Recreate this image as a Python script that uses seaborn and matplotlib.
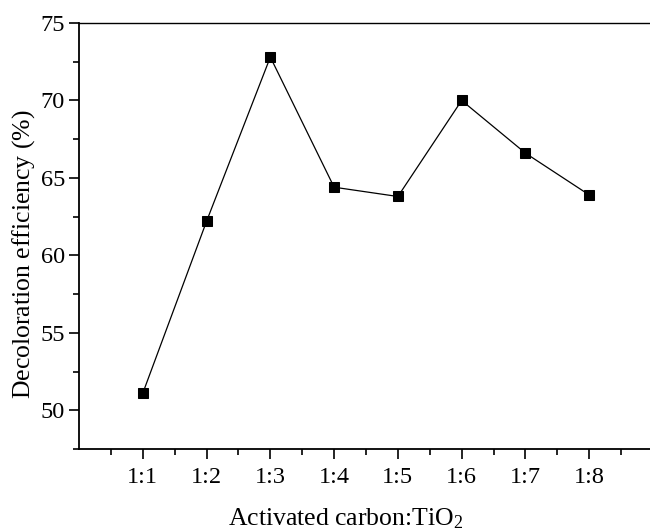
import matplotlib
matplotlib.use("Agg")
import matplotlib.pyplot as plt
import seaborn as sns
import pandas as pd
from matplotlib.ticker import MultipleLocator, FixedLocator

categories = ["1:1", "1:2", "1:3", "1:4", "1:5", "1:6", "1:7", "1:8"]
positions = [1, 2, 3, 4, 5, 6, 7, 8]
efficiency = [51.1, 62.2, 72.8, 64.4, 63.8, 70.0, 66.6, 63.9]

sns.set_theme(style="ticks")
plt.rcParams['font.family'] = ['Liberation Serif', 'DejaVu Serif']
plt.rcParams['mathtext.fontset'] = 'custom'
plt.rcParams['mathtext.rm'] = 'Liberation Serif'
plt.rcParams['mathtext.it'] = 'Liberation Serif:italic'

df = pd.DataFrame({"pos": positions, "eff": efficiency})

fig = plt.figure(figsize=(6.5, 5.31), dpi=100)
ax = fig.add_axes([79/650, 1-449/531, (653-79)/650, (449-23)/531])

sns.lineplot(data=df, x="pos", y="eff", ax=ax, color="black", linewidth=0.9,
             marker="s", markersize=7.5, markeredgecolor="black",
             markerfacecolor="black")

ax.set_xlim(0, 9)
ax.set_ylim(47.5, 75)
ax.xaxis.set_major_locator(FixedLocator(positions))
ax.set_xticklabels(categories)
ax.xaxis.set_minor_locator(FixedLocator([0.5 + i for i in range(9)]))
ax.yaxis.set_major_locator(MultipleLocator(5))
ax.yaxis.set_minor_locator(MultipleLocator(2.5))

ax.tick_params(axis="both", which="major", direction="out", length=7, width=1.2,
               labelsize=17.5, color="black", labelcolor="black", pad=3)
ax.tick_params(axis="both", which="minor", direction="out", length=4.5, width=1.2,
               color="black")
ax.tick_params(axis="x", which="major", pad=6)

for s in ["left", "bottom"]:
    ax.spines[s].set_linewidth(1.3)
    ax.spines[s].set_color("black")
ax.spines["top"].set_linewidth(1.0)
ax.spines["top"].set_color("black")
ax.spines["right"].set_visible(False)

ax.set_xlabel("Activated carbon:TiO$_2$", fontsize=18.5, color="black")
ax.xaxis.set_label_coords((346-79)/(653-79), (449-506)/(449-23))
ax.set_ylabel(r"Decoloration efficiency ($\mathit{\%}$)", fontsize=18.5, color="black")
ax.yaxis.set_label_coords(-(79-37)/(653-79), (449-254)/(449-23))

fig.savefig("out.png", dpi=100)
